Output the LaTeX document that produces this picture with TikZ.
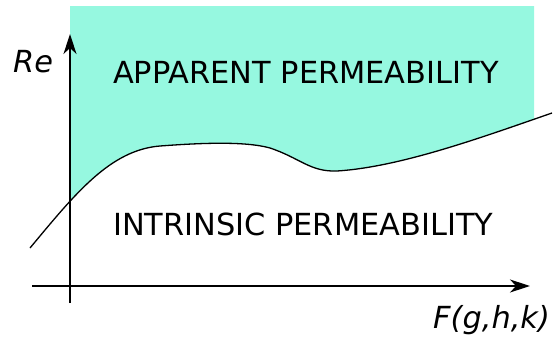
\documentclass[tikz,border=0pt]{standalone}
\usepackage{fontspec}
\setmainfont{DejaVu Sans}
\usetikzlibrary{arrows.meta}
\definecolor{apparent}{RGB}{150,248,224}
\tikzset{
  axis/.style={line width=1.4pt,-{Stealth[length=20pt,width=13pt,inset=6pt]}},
  boundary/.style={line width=1.3pt},
  label/.style={font=\fontsize{30.4}{36}\selectfont,inner sep=0pt,anchor=base west},
}
\begin{document}
\begin{tikzpicture}[x=1pt,y=-1pt]
\useasboundingbox (0,0) rectangle (554,340);
% shaded region above the boundary curve
\begin{scope}
  \clip (70,6) rectangle (534,300);
  \fill[apparent] (30,248) .. controls (75,194) and (110,150) .. (160,146)
    .. controls (200,143) and (245,141) .. (270,148)
    .. controls (300,158) and (310,172) .. (337,171)
    .. controls (400,167) and (480,138) .. (552,113)
    -- (560,0) -- (0,0) -- cycle;
\end{scope}
% boundary between the two regimes
\draw[boundary] (30,248) .. controls (75,194) and (110,150) .. (160,146)
    .. controls (200,143) and (245,141) .. (270,148)
    .. controls (300,158) and (310,172) .. (337,171)
    .. controls (400,167) and (480,138) .. (552,113);
% axes
\coordinate (ybot) at (70,303);
\coordinate (ytop) at (70,34);
\coordinate (xleft) at (32,286);
\coordinate (xright) at (530,286);
\draw[axis] (ybot) -- (ytop);
\draw[axis] (xleft) -- (xright);
% labels
\node[label] (re) at (13,72) {\itshape Re};
\node[label] (fx) at (433,328) {\itshape F(g,h,k)};
\node[label] (app) at (113,83) {APPARENT PERMEABILITY};
\node[label] (intr) at (113,235) {INTRINSIC PERMEABILITY};
\end{tikzpicture}
\end{document}
